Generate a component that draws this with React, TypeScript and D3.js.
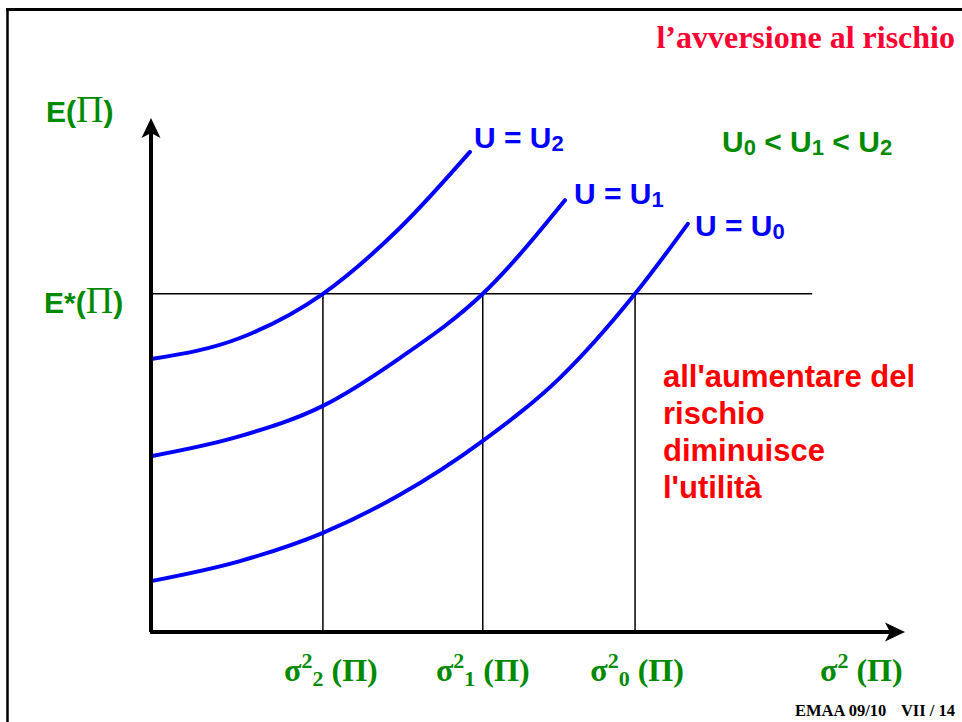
import React from "react";
import * as d3 from "d3";

const W = 962;
const H = 722;

// Data (abstract units 0..100 on each axis)
const curveU2X = [0, 11.8, 22.8, 33.0, 42.3];
const curveU2Y = [53.1, 57.2, 65.8, 78.6, 93.4];
const curveU1X = [0, 11.8, 22.8, 33.0, 44.0, 54.9];
const curveU1Y = [34.2, 38.1, 44.0, 53.3, 65.8, 84.0];
const curveU0X = [0, 11.8, 22.8, 33.0, 44.0, 54.2, 64.2, 71.2];
const curveU0Y = [9.9, 13.8, 19.3, 26.7, 37.2, 49.4, 65.8, 79.4];
const eStar = 65.8;
const eStarEnd = 87.7;
const sigmaMarks = [22.8, 44.0, 64.2];
const sigmaSubs = ["2", "1", "0"];
const noteLines = ["all'aumentare del", "rischio", "diminuisce", "l'utilità"];

const GREEN = "#008a00";
const BLUE = "#0000ff";
const RED = "#ff0000";
const TITLE_RED = "#ff0033";

export default function App() {
  const x = d3.scaleLinear().domain([0, 100]).range([151, 905]);
  const y = d3.scaleLinear().domain([0, 100]).range([632, 118]);

  const line = d3
    .line<[number, number]>()
    .x((d) => x(d[0]))
    .y((d) => y(d[1]))
    .curve(d3.curveMonotoneX);

  const curves = [
    { xs: curveU2X, ys: curveU2Y },
    { xs: curveU1X, ys: curveU1Y },
    { xs: curveU0X, ys: curveU0Y },
  ];

  const sans = "Liberation Sans, Arial, sans-serif";
  const serif = "Liberation Serif, Times New Roman, serif";

  const x0 = x(0);
  const y0 = y(0);
  const yTop = y(100);
  const xEnd = x(100);
  const labelShift = [8, 0, 2];

  return (
    <svg
      width={W}
      height={H}
      style={{ position: "absolute", left: 0, top: 0, background: "#fff" }}
    >
      <rect x={0} y={0} width={W} height={H} fill="#fff" />
      {/* slide border */}
      <line x1={6} y1={9.5} x2={W} y2={9.5} stroke="#000" strokeWidth={3} />
      <line x1={7.5} y1={8} x2={7.5} y2={H} stroke="#000" strokeWidth={2.5} />

      {/* title */}
      <text
        x={955}
        y={48}
        textAnchor="end"
        fontFamily={serif}
        fontWeight="bold"
        fontSize={32}
        fill={TITLE_RED}
      >
        l’avversione al rischio
      </text>

      {/* guide lines */}
      <line x1={x0} y1={y(eStar)} x2={x(eStarEnd)} y2={y(eStar)} stroke="#000" strokeWidth={1.5} />
      {sigmaMarks.map((s, i) => (
        <line key={i} x1={x(s)} y1={y(eStar)} x2={x(s)} y2={y0} stroke="#000" strokeWidth={1.5} />
      ))}

      {/* curves */}
      {curves.map((c, i) => (
        <path
          key={i}
          d={line(c.xs.map((v, j) => [v, c.ys[j]] as [number, number])) || ""}
          fill="none"
          stroke={BLUE}
          strokeWidth={4}
          strokeLinecap="round"
        />
      ))}

      {/* axes */}
      <line x1={x0} y1={y0} x2={x0} y2={yTop + 12} stroke="#000" strokeWidth={4} />
      <line x1={x0 - 1} y1={y0} x2={xEnd - 12} y2={y0} stroke="#000" strokeWidth={4} />
      <path
        d={`M${x0},${yTop} L${x0 + 9.5},${yTop + 20} L${x0},${yTop + 15} L${x0 - 9.5},${yTop + 20} Z`}
        fill="#000"
      />
      <path
        d={`M${xEnd},${y0} L${xEnd - 20},${y0 - 9.5} L${xEnd - 15},${y0} L${xEnd - 20},${y0 + 9.5} Z`}
        fill="#000"
      />

      {/* y labels */}
      <text x={46} y={122} fontFamily={sans} fontWeight="bold" fontSize={30} fill={GREEN}>
        E(<tspan fontFamily={serif} fontWeight="normal" fontSize={38}>Π</tspan>)
      </text>
      <text x={44} y={313} fontFamily={sans} fontWeight="bold" fontSize={30} fill={GREEN}>
        E*(<tspan fontFamily={serif} fontWeight="normal" fontSize={38}>Π</tspan>)
      </text>

      {/* curve labels */}
      {[
        { lx: 474, ly: 148, sub: "2" },
        { lx: 574, ly: 204, sub: "1" },
        { lx: 695, ly: 236, sub: "0" },
      ].map((l, i) => (
        <text key={i} x={l.lx} y={l.ly} fontFamily={sans} fontWeight="bold" fontSize={30} fill={BLUE}>
          U = U<tspan fontSize={22} dy={3}>{l.sub}</tspan>
        </text>
      ))}

      <text x={722} y={152} fontFamily={sans} fontWeight="bold" fontSize={30} fill={GREEN}>
        U<tspan fontSize={22} dy={3}>0</tspan>
        <tspan dy={-3}> &lt; U</tspan>
        <tspan fontSize={22} dy={3}>1</tspan>
        <tspan dy={-3}> &lt; U</tspan>
        <tspan fontSize={22} dy={3}>2</tspan>
      </text>

      {/* annotation */}
      {noteLines.map((t, i) => (
        <text key={i} x={663} y={387 + i * 37} fontFamily={sans} fontWeight="bold" fontSize={31} fill={RED}>
          {t}
        </text>
      ))}

      {/* x labels */}
      {sigmaMarks.map((s, i) => (
        <text
          key={i}
          x={x(s) + labelShift[i]}
          y={681}
          textAnchor="middle"
          fontFamily={serif}
          fontWeight="bold"
          fontSize={32}
          fill={GREEN}
        >
          σ<tspan fontSize={22} dy={-13}>2</tspan>
          <tspan fontSize={22} dy={18}>{sigmaSubs[i]}</tspan>
          <tspan dy={-5}> (Π)</tspan>
        </text>
      ))}
      <text x={820} y={681} fontFamily={serif} fontWeight="bold" fontSize={32} fill={GREEN}>
        σ<tspan fontSize={22} dy={-13}>2</tspan>
        <tspan dy={13}> (Π)</tspan>
      </text>

      {/* footer */}
      <text x={795} y={716} fontFamily={serif} fontWeight="bold" fontSize={16.5} fill="#000">
        EMAA 09/10
      </text>
      <text x={955} y={716} textAnchor="end" fontFamily={serif} fontWeight="bold" fontSize={16.5} fill="#000">
        VII / 14
      </text>
    </svg>
  );
}
